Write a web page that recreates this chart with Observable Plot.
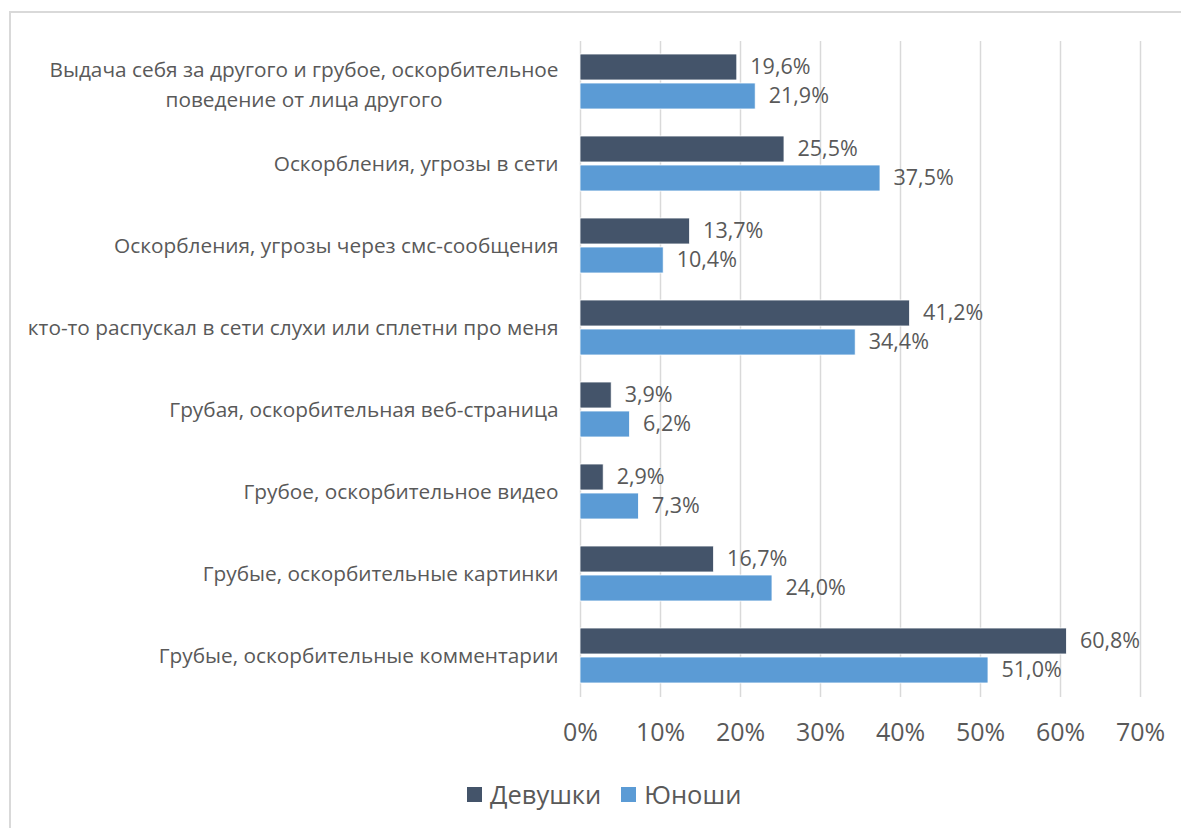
<!DOCTYPE html>
<html>
<head>
<meta charset="utf-8">
<script src="https://cdn.jsdelivr.net/npm/d3@7"></script>
<script src="https://cdn.jsdelivr.net/npm/@observablehq/plot@0.6"></script>
<style>
  body { margin: 0; background: #fff; }
  #wrap { position: relative; width: 1181px; height: 828px; overflow: hidden; font-family: "Open Sans", sans-serif; }
  #frame { position: absolute; left: 9px; top: 11px; right: -10px; bottom: -10px; border-top: 2px solid #d9d9d9; border-left: 2px solid #d9d9d9; }
  #chart { position: absolute; left: 0; top: 0; }
  #legend { position: absolute; top: 777px; left: 467px; display: flex; align-items: center; font-size: 25.5px; color: #595959; }
  #legend .sw { width: 15px; height: 15px; display: inline-block; margin-right: 8px; }
  #legend .item { display: flex; align-items: center; margin-right: 20px; }
</style>
</head>
<body>
<div id="wrap">
  <div id="frame"></div>
  <div id="chart"></div>
  <div id="legend"></div>
</div>
<script>
const categories = [
  "Выдача себя за другого и грубое, оскорбительное\nповедение от лица другого",
  "Оскорбления, угрозы в сети",
  "Оскорбления, угрозы через смс-сообщения",
  "кто-то распускал в сети слухи или сплетни про меня",
  "Грубая, оскорбительная веб-страница",
  "Грубое, оскорбительное видео",
  "Грубые, оскорбительные картинки",
  "Грубые, оскорбительные комментарии"
];
const series = ["Девушки", "Юноши"];
const girls = [19.6, 25.5, 13.7, 41.2, 3.9, 2.9, 16.7, 60.8];
const boys  = [21.9, 37.5, 10.4, 34.4, 6.2, 7.3, 24.0, 51.0];
const xTicks = [0, 10, 20, 30, 40, 50, 60, 70];
const colors = ["#44546a", "#5b9bd5"];

const data = [];
categories.forEach((c, i) => {
  data.push({category: c, series: series[0], value: girls[i]});
  data.push({category: c, series: series[1], value: boys[i]});
});
const labels = categories.map(c => ({category: c}));

const catSize = 20.8;
const ctx = document.createElement("canvas").getContext("2d");
ctx.font = `${catSize}px 'Open Sans'`;
const gap = 22;
const textColor = "#595959";
const single = labels.filter(d => !d.category.includes("\n"));
const multi = labels.filter(d => d.category.includes("\n"));
const fmt = v => v.toFixed(1).replace(".", ",") + "%";

const marks = [
  Plot.ruleX(xTicks, {stroke: "#d9d9d9", strokeWidth: 1.5}),
  Plot.barX(data, {x: "value", y: "series", fill: "series", stroke: "#ffffff", strokeWidth: 0.8}),
  Plot.text(data, {x: "value", y: "series", text: d => fmt(d.value), textAnchor: "start", dx: 13, fill: textColor, fontSize: 21.5}),
  Plot.text(single, {fy: "category", text: "category", frameAnchor: "left", textAnchor: "end", dx: -gap, fill: textColor, fontSize: catSize})
];
multi.forEach(d => {
  const w = Math.max(...d.category.split("\n").map(s => ctx.measureText(s).width));
  marks.push(Plot.text([d], {fy: "category", text: "category", frameAnchor: "left", textAnchor: "middle", lineAnchor: "middle", dx: -gap - w / 2, fill: textColor, fontSize: catSize, lineHeight: 1.45}));
});

const chart = Plot.plot({
  width: 1181,
  height: 760,
  marginLeft: 580,
  marginRight: 41,
  marginTop: 40,
  marginBottom: 63,
  style: {fontFamily: "'Open Sans', sans-serif", background: "transparent", overflow: "visible"},
  x: {domain: [0, 70], ticks: xTicks, label: null},
  y: {domain: series, axis: null, paddingInner: 0.1, paddingOuter: 0.45},
  fy: {domain: categories, axis: null, padding: 0},
  color: {domain: series, range: colors},
  facet: {data: data, y: "category"},
  marks: [
    ...marks,
    Plot.axisX({ticks: xTicks, tickFormat: d => d + "%", tickSize: 0, tickPadding: 26, fontSize: 25, fill: textColor, label: null, facetAnchor: "bottom"})
  ]
});
document.getElementById("chart").appendChild(chart);

const legend = document.getElementById("legend");
series.forEach((s, i) => {
  const item = document.createElement("div");
  item.className = "item";
  item.innerHTML = `<span class="sw" style="background:${colors[i]}"></span><span>${s}</span>`;
  legend.appendChild(item);
});
</script>
</body>
</html>
